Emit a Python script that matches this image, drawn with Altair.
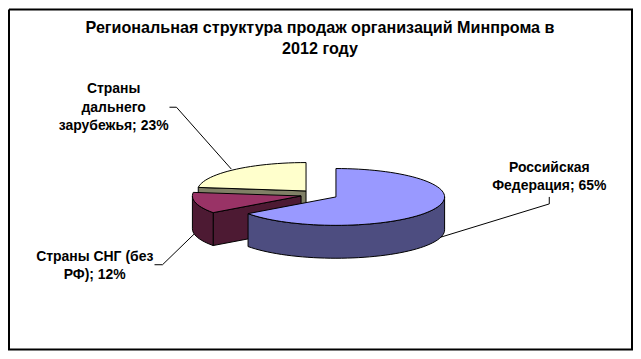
import math
import altair as alt
import pandas as pd

# Data
categories = ["Российская Федерация", "Страны СНГ (без РФ)", "Страны дальнего зарубежья"]
shares = [65, 12, 23]
label_lines = [["Российская", "Федерация; 65%"], ["Страны СНГ (без", "РФ); 12%"], ["Страны", "дальнего", "зарубежья; 23%"]]
top_colors = ["#9999FF", "#993366", "#FFFFCC"]
side_colors = ["#4D4D80", "#4D1A33", "#808066"]
title_lines = ["Региональная структура продаж организаций Минпрома в", "2012 году"]

# Layout (page pixels)
OX, OY = 8, 8
W, H = 627, 343
apex = [(337, 197), (302, 196), (307, 191)]
RX, RY, DEPTH = 109, 28.5, 33
label_pos = [(551, 168), (95, 257), (114, 89)]
leaders = [[(440, 238), (551, 204), (551, 197)],
           [(195, 234), (163, 265), (155, 265)],
           [(232, 169), (177, 107), (170, 107)]]

xs = alt.Scale(domain=[OX, OX + W], range=[0, W])
ys = alt.Scale(domain=[OY, OY + H], range=[0, H])
X = alt.X("x:Q", scale=xs, axis=None)
Y = alt.Y("y:Q", scale=ys, axis=None)

def pt(c, deg, dz=0):
    r = math.radians(deg)
    return (c[0] + RX * math.sin(r), c[1] - RY * math.cos(r) + dz)

def poly(points):
    pts = list(points) + [points[0]]
    return [dict(x=p[0], y=p[1], i=i) for i, p in enumerate(pts)]

def arc(c, a, b, dz=0):
    n = max(2, int(abs(b - a) / 3))
    return [pt(c, a + (b - a) * k / n, dz) for k in range(n + 1)]

def shape(rows, color):
    return alt.Chart(pd.DataFrame(rows)).mark_line(
        fill=color, stroke="#000000", strokeWidth=1, interpolate="linear"
    ).encode(x=X, y=Y, order="i:Q")

starts, acc = [], 0
for s in shares:
    starts.append(acc * 3.6)
    acc += s
ends = [s + v * 3.6 for s, v in zip(starts, shares)]

layers = []
right, bottom = OX + W - 1, OY + H - 1
frame = pd.DataFrame({"x": [OX + 1, right, right, OX + 1, OX + 1],
                      "y": [OY + 1, OY + 1, bottom, bottom, OY + 1], "i": range(5)})
layers.append(alt.Chart(frame).mark_line(stroke="#000000", strokeWidth=2).encode(x=X, y=Y, order="i:Q"))

for path in leaders:
    rows = [dict(x=p[0], y=p[1], i=i) for i, p in enumerate(path)]
    layers.append(alt.Chart(pd.DataFrame(rows)).mark_line(stroke="#000000", strokeWidth=1).encode(x=X, y=Y, order="i:Q"))

# draw back to front: yellow, purple, blue
for idx in [2, 1, 0]:
    c, a, b = apex[idx], starts[idx], ends[idx]
    if math.sin(math.radians(a)) < -1e-6:
        layers.append(shape(poly([c, pt(c, a), pt(c, a, DEPTH), (c[0], c[1] + DEPTH)]), side_colors[idx]))
    if math.sin(math.radians(b)) > 1e-6:
        layers.append(shape(poly([c, pt(c, b), pt(c, b, DEPTH), (c[0], c[1] + DEPTH)]), side_colors[idx]))
    lo, hi = max(a, 90), min(b, 270)
    if lo < hi:
        layers.append(shape(poly(arc(c, lo, hi) + arc(c, hi, lo, DEPTH)), side_colors[idx]))
    layers.append(shape(poly([c] + arc(c, a, b)), top_colors[idx]))

tdf = pd.DataFrame({"x": [321, 321], "y": [28, 49], "t": title_lines})
layers.append(alt.Chart(tdf).mark_text(font="Liberation Sans", fontWeight="bold", fontSize=16.2, color="#000000",
                                       align="center", baseline="middle").encode(x=X, y=Y, text="t:N"))

rows = []
for lines, (lx, ly) in zip(label_lines, label_pos):
    for k, line in enumerate(lines):
        rows.append(dict(x=lx, y=ly + k * 18.5, t=line))
layers.append(alt.Chart(pd.DataFrame(rows)).mark_text(font="Liberation Sans", fontWeight="bold", fontSize=14, color="#000000",
                                                      align="center", baseline="middle").encode(x=X, y=Y, text="t:N"))

chart = alt.layer(*layers).properties(width=W, height=H, padding=0, autosize=alt.AutoSizeParams(type="none"),
                                      background="#FFFFFF").configure_view(stroke=None)
chart.save("out.html", embed_options={"renderer": "svg", "actions": False})
